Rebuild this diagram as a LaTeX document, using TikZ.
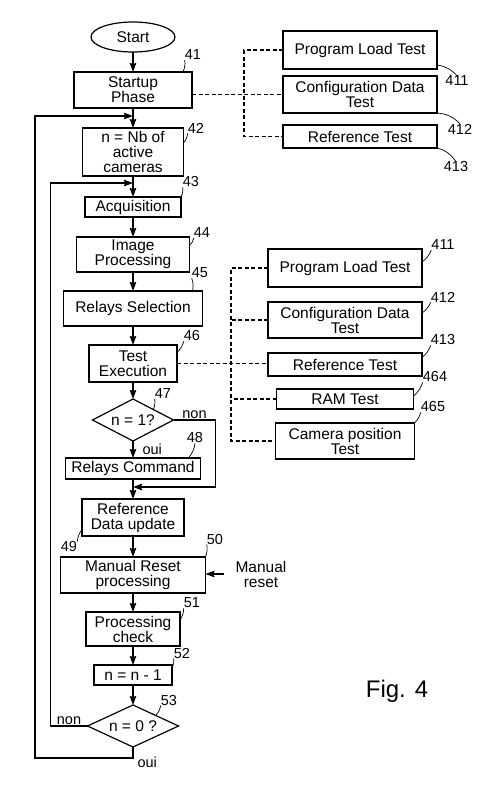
\documentclass[tikz,border=0pt]{standalone}
\usepackage{fontspec}
\setmainfont{Liberation Sans}
\usetikzlibrary{positioning, shapes.geometric, arrows.meta}
\tikzset{
    node distance=20pt, % gap between two blocks of the main column
    block/.style={draw, line width=1.2pt, inner sep=1pt, outer sep=0pt, align=center,
        font=\fontsize{15.5}{15}\selectfont},
    test/.style={block, minimum width=154pt}, % boxes of the test lists
    decision/.style={block, diamond, aspect=2, inner sep=0pt},
    num/.style={font=\fontsize{14.5}{14}\selectfont, inner sep=0pt}, % reference numbers
    yn/.style={font=\fontsize{14.5}{14}\selectfont, inner sep=1pt},
    flow/.style={line width=1.2pt, -{Stealth[length=9pt, width=6.5pt, inset=1pt]}},
    link/.style={line width=1.2pt, dash pattern=on 4pt off 2.5pt},
    ldr/.style={line width=0.7pt, bend right=15},
}

\begin{document}
\begin{tikzpicture}[x=1pt, y=-1pt]
            \useasboundingbox (0,0) rectangle (500,807);

            \node[block, ellipse, minimum width=84pt, minimum height=30pt] (START) at (133,37) {Start};
            \node[block, below=of START, minimum width=118pt, minimum height=36pt] (STARTUP) {Startup\\Phase};
            \node[block, below=of STARTUP, minimum width=101pt, minimum height=48pt] (NBCAM) {n = Nb of\\active\\cameras};
            \node[block, below=21pt of NBCAM, minimum width=96pt, minimum height=20pt] (ACQ) {Acquisition};
            \node[block, below=of ACQ, minimum width=113pt, minimum height=35pt] (IMGPROC) {Image\\Processing};
            \node[block, below=19pt of IMGPROC, minimum width=139pt, minimum height=35pt] (RELSEL) {Relays Selection};
            \node[block, below=19pt of RELSEL, minimum width=88pt, minimum height=37pt] (TESTEXEC) {Test\\Execution};
            \node[decision, below=17pt of TESTEXEC, minimum width=81pt, minimum height=42pt] (NONE) {n = 1?};
            \node[block, below=17pt of NONE, minimum width=135pt, minimum height=21pt] (RELCMD) {Relays Command};
            \node[block, below=of RELCMD, minimum width=102pt, minimum height=37pt] (REFUPD) {Reference\\Data update};
            \node[block, below=21pt of REFUPD, minimum width=145pt, minimum height=36pt] (MANRESET) {Manual Reset\\processing};
            \node[block, below=19pt of MANRESET, minimum width=94pt, minimum height=34pt] (PROCCHK) {Processing\\check};
            \node[block, below=19pt of PROCCHK, minimum width=78pt, minimum height=20pt] (DECN) {n = n - 1};
            \node[decision, below=of DECN, minimum width=91pt, minimum height=42pt] (NZERO) {n = 0 ?};

            \node[block, draw=none, inner xsep=12pt] (MRIN) at (261,574) {Manual\\reset};

            % tests of the startup phase
            \node[test, minimum height=37pt] (CFG) at (360,94.5) {Configuration Data\\Test};
            \node[test, minimum height=38pt, above=7pt of CFG] (PLT) {Program Load Test};
            \node[test, minimum height=23pt, below=12pt of CFG] (REFT) {Reference Test};

            % tests of the test execution
            \node[test, minimum height=38pt] (PLT2) at (345,268) {Program Load Test};
            \node[test, minimum height=36pt, below=15pt of PLT2] (CFG2) {Configuration Data\\Test};
            \node[test, minimum height=23pt, below=15pt of CFG2] (REFT2) {Reference Test};
            \node[block, minimum width=137pt, minimum height=20pt, below=13pt of REFT2] (RAMT) {RAM Test};
            \node[block, minimum width=139pt, minimum height=36pt, below=14pt of RAMT] (CAMT) {Camera position\\Test};

            \coordinate (J1) at ([yshift=-8pt]STARTUP.south);
            \coordinate (J2) at ([yshift=-7pt]NBCAM.south);
            \coordinate (J3) at ([yshift=-8pt]RELCMD.south);
            \coordinate (BUS) at ([xshift=-39pt]PLT.west);
            \coordinate (BUS2) at ([xshift=-37pt]PLT2.west);

            \path (START) edge[flow] (STARTUP)
            (STARTUP) edge[flow] (NBCAM)
            (NBCAM) edge[flow] (ACQ)
            (ACQ) edge[flow] (IMGPROC)
            (IMGPROC) edge[flow] (RELSEL)
            (RELSEL) edge[flow] (TESTEXEC)
            (TESTEXEC) edge[flow] (NONE)
            (NONE) edge[flow] node[yn, right=8pt]{oui} (RELCMD)
            (RELCMD) edge[flow] (REFUPD)
            (REFUPD) edge[flow] (MANRESET)
            (MANRESET) edge[flow] (PROCCHK)
            (PROCCHK) edge[flow] (DECN)
            (DECN) edge[flow] (NZERO);

            \draw[flow] (NONE.east) -- node[yn, above]{non} ++(42,0) |- (J3);
            \draw[flow] (NZERO.west) -- node[yn, above]{non} ++(-37,0) |- (J2);
            \draw[flow] (NZERO.south) -- ++(0,11)
                node[yn, anchor=north west, xshift=3pt, yshift=3pt]{oui}
                -| ([xshift=-98pt]J1) -- (J1);
            \draw[flow] (MRIN.west) -- (MRIN.west -| MANRESET.east);

            \draw[link] (STARTUP.east |- CFG.west) -- (CFG.west);
            \draw[link] (PLT.west) -- (BUS) |- (REFT.west);
            \draw[link] (TESTEXEC.east) -- (TESTEXEC.east -| REFT2.west);
            \draw[link] (PLT2.west) -- (BUS2) |- (CAMT.west);
            \foreach \t in {CFG2, RAMT}
                \draw[link] (\t.west) -- (\t.west -| BUS2);

            % reference numbers
            \node[num] (L41) at (193,55) {41};
            \node[num] (L42) at (196,128) {42};
            \node[num] (L43) at (191,182) {43};
            \node[num] (L44) at (202,233) {44};
            \node[num] (L45) at (200,273) {45};
            \node[num] (L46) at (192,336) {46};
            \node[num] (L47) at (163,394) {47};
            \node[num] (L48) at (195,438) {48};
            \node[num] (L49) at (69,547) {49};
            \node[num] (L50) at (215,539) {50};
            \node[num] (L51) at (192,603) {51};
            \node[num] (L52) at (182,653) {52};
            \node[num] (L53) at (169,700) {53};
            \node[num] (L411) at (457,81) {411};
            \node[num] (L412) at (460,129) {412};
            \node[num] (L413) at (456,167) {413};
            \node[num] (M411) at (443,245) {411};
            \node[num] (M412) at (443,297) {412};
            \node[num] (M413) at (443,340) {413};
            \node[num] (M464) at (435,377) {464};
            \node[num] (M465) at (433,407) {465};

            \draw[ldr] ([xshift=-9pt]STARTUP.north east) to (L41.south west);
            \draw[ldr] ([yshift=9pt]NBCAM.east) to (L42.south west);
            \draw[ldr] (ACQ.north east) to (L43.south west);
            \draw[ldr] ([yshift=9pt]IMGPROC.east) to (L44.south west);
            \draw[ldr] ([xshift=-10pt]RELSEL.north east) to (L45.south west);
            \draw[ldr] ([yshift=11pt]TESTEXEC.east) to (L46.south west);
            \draw[ldr] (NONE.north east) to (L47.south west);
            \draw[ldr] ([xshift=-12pt]RELCMD.north east) to (L48.south);
            \draw[ldr] ([yshift=-12pt]REFUPD.west) to (L49.north east);
            \draw[ldr] (MANRESET.north east) to (L50.south west);
            \draw[ldr] ([yshift=9pt]PROCCHK.east) to (L51.south west);
            \draw[ldr] ([yshift=7pt]DECN.east) to (L52.south west);
            \draw[ldr] (NZERO.north east) to (L53.south west);
            \draw[ldr, bend left=20] ([yshift=4pt]PLT.south east) to (L411.north);
            \draw[ldr, bend left=20] (CFG.south east) to (L412.north);
            \draw[ldr, bend left=20] (REFT.south east) to (L413.north);
            \draw[ldr] ([yshift=6pt]PLT2.east) to (M411.south west);
            \draw[ldr] ([yshift=7pt]CFG2.east) to (M412.south west);
            \draw[ldr] ([yshift=7pt]REFT2.east) to (M413.south west);
            \draw[ldr] ([yshift=3pt]RAMT.east) to (M464.south west);
            \draw[ldr] (CAMT.north east) to (M465.south west);

            \node[font=\fontsize{24}{24}\selectfont] (FIG) at (397,691) {Fig. 4};
\end{tikzpicture}
\end{document}
